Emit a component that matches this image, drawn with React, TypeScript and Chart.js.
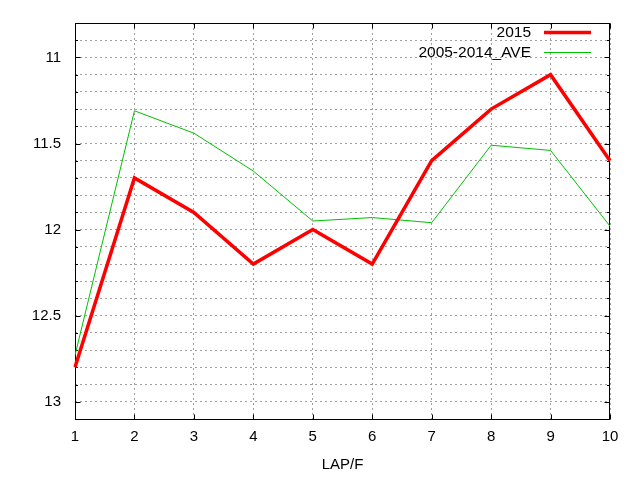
import { useEffect, useRef } from "react";
import { Chart, registerables, Plugin } from "chart.js";

Chart.register(...registerables);

const laps = ["1", "2", "3", "4", "5", "6", "7", "8", "9", "10"];
const series2015 = [12.8, 11.7, 11.9, 12.2, 12.0, 12.2, 11.6, 11.3, 11.1, 11.6];
const seriesAve = [12.73, 11.31, 11.44, 11.66, 11.95, 11.93, 11.96, 11.51, 11.54, 11.98];
const yTickLabels = [11, 11.5, 12, 12.5, 13];

const FONT = "'Liberation Sans', Arial, sans-serif";

const isMajor = (v: number) => yTickLabels.some((t) => Math.abs(t - v) < 1e-6);

// gnuplot-like frame with inward ticks on all four sides
const framePlugin: Plugin = {
  id: "frame",
  beforeDatasetsDraw(chart) {
    const { ctx, chartArea } = chart;
    const l = Math.round(chartArea.left) + 0.5;
    const r = Math.round(chartArea.right) - 0.5;
    const t = Math.round(chartArea.top) + 0.5;
    const b = Math.round(chartArea.bottom) + 0.5;
    ctx.save();
    ctx.strokeStyle = "#000";
    ctx.lineWidth = 1;
    ctx.strokeRect(l, t, r - l, b - t);
    ctx.beginPath();
    const ys = chart.scales.y;
    ys.ticks.forEach((tk) => {
      const py = Math.round(ys.getPixelForValue(tk.value)) + 0.5;
      const len = isMajor(tk.value) ? 5 : 2.5;
      ctx.moveTo(l, py);
      ctx.lineTo(l + len, py);
      ctx.moveTo(r, py);
      ctx.lineTo(r - len, py);
    });
    const xs = chart.scales.x;
    xs.ticks.forEach((_, i) => {
      const px = Math.round(xs.getPixelForTick(i)) + 0.5;
      ctx.moveTo(px, b);
      ctx.lineTo(px, b - 5);
      ctx.moveTo(px, t);
      ctx.lineTo(px, t + 5);
    });
    ctx.stroke();
    ctx.restore();
  },
};

// legend with the text left of the line sample, top right inside the plot
const keyPlugin: Plugin = {
  id: "key",
  afterDatasetsDraw(chart) {
    const { ctx } = chart;
    ctx.save();
    ctx.font = `15.5px ${FONT}`;
    ctx.textAlign = "right";
    ctx.textBaseline = "middle";
    chart.data.datasets.forEach((ds, i) => {
      const y = 32.5 + i * 20;
      ctx.fillStyle = "#000";
      ctx.fillText(String(ds.label), 531, y);
      ctx.strokeStyle = ds.borderColor as string;
      ctx.lineWidth = ds.borderWidth as number;
      ctx.beginPath();
      ctx.moveTo(544, y);
      ctx.lineTo(591, y);
      ctx.stroke();
    });
    ctx.restore();
  },
};

function LapChart() {
  const chartRef = useRef<HTMLCanvasElement>(null);
  const chartInstanceRef = useRef<Chart | null>(null);

  useEffect(() => {
    if (!chartRef.current) return;
    if (chartInstanceRef.current) chartInstanceRef.current.destroy();

    chartInstanceRef.current = new Chart(chartRef.current, {
      type: "line",
      data: {
        labels: laps,
        datasets: [
          {
            label: "2015",
            data: series2015,
            borderColor: "#ff0000",
            borderWidth: 3.5,
            pointRadius: 0,
            tension: 0,
          },
          {
            label: "2005-2014_AVE",
            data: seriesAve,
            borderColor: "#00c000",
            borderWidth: 1,
            pointRadius: 0,
            tension: 0,
          },
        ],
      },
      options: {
        responsive: false,
        animation: false,
        layout: { padding: { top: 20, right: 30, left: 0, bottom: 0 } },
        plugins: {
          legend: { display: false },
          tooltip: { enabled: false },
        },
        scales: {
          x: {
            type: "category",
            offset: false,
            grid: { color: "#a0a0a0", drawTicks: false },
            border: { display: false, dash: [2, 3] },
            ticks: {
              color: "#000",
              font: { family: FONT, size: 15 },
              padding: 9,
              maxRotation: 0,
              autoSkip: false,
            },
            title: {
              display: true,
              text: "LAP/F",
              color: "#000",
              font: { family: FONT, size: 15 },
              padding: { top: 0, bottom: 6 },
            },
            afterFit: (scale) => {
              scale.height = 61;
            },
          },
          y: {
            type: "linear",
            reverse: true,
            min: 10.8,
            max: 13.1,
            grid: { color: "#a0a0a0", drawTicks: false },
            border: { display: false, dash: [2, 3] },
            ticks: {
              stepSize: 0.1,
              autoSkip: false,
              color: "#000",
              font: { family: FONT, size: 15 },
              padding: 14,
              callback: (v) => {
                const n = Number(v);
                return isMajor(n) ? String(Math.round(n * 10) / 10) : "";
              },
            },
            afterFit: (scale) => {
              scale.width = 75;
            },
          },
        },
      },
      plugins: [framePlugin, keyPlugin],
    });

    return () => {
      if (chartInstanceRef.current) {
        chartInstanceRef.current.destroy();
        chartInstanceRef.current = null;
      }
    };
  }, []);

  return (
    <div style={{ position: "absolute", left: 0, top: 0, width: 640, height: 480, background: "#fff" }}>
      <canvas ref={chartRef} width={640} height={480} />
    </div>
  );
}

export default function App() {
  return <LapChart />;
}
